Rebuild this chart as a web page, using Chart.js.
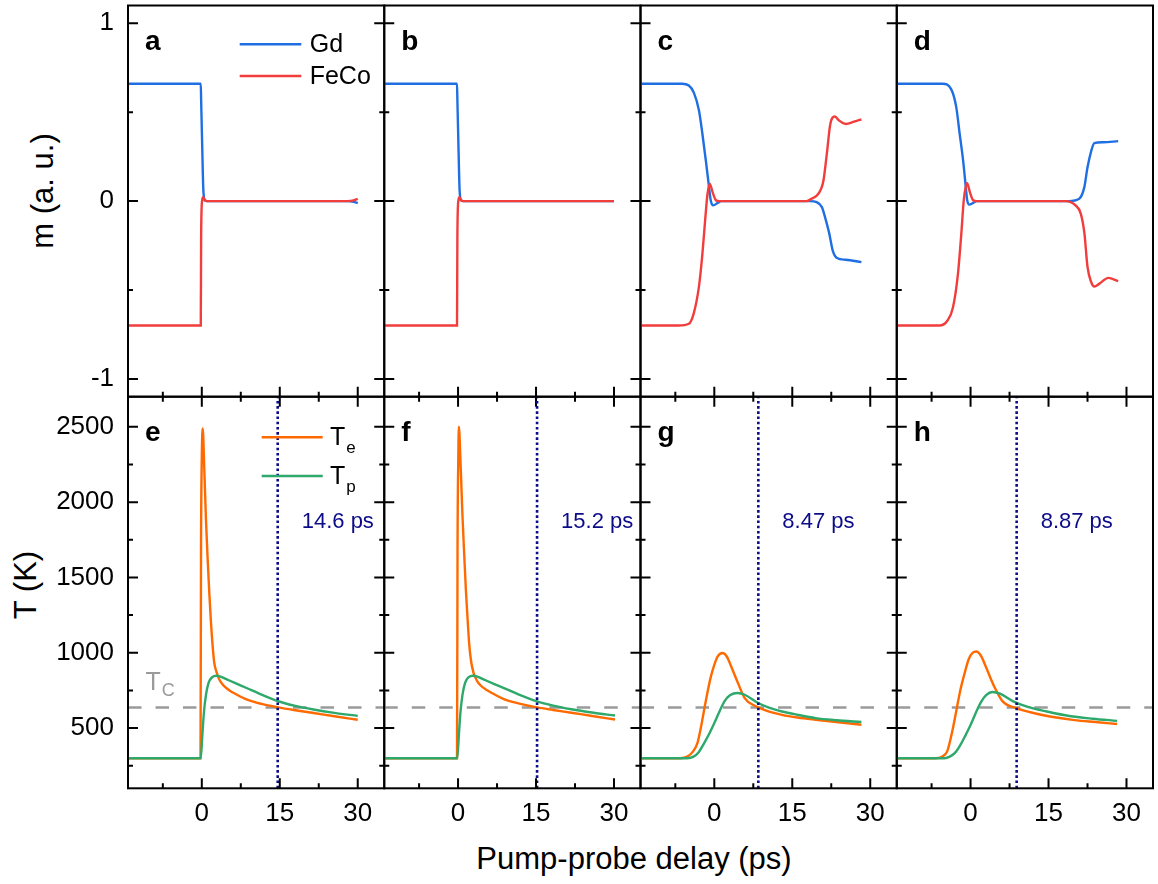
<!DOCTYPE html>
<html lang="en">
<head>
<meta charset="UTF-8" />
<title>Gd / FeCo magnetization and temperatures</title>
<script src="https://cdn.jsdelivr.net/npm/chart.js"></script>
<style>
body {
  margin: 0;
  background: #fff;
  font-family: 'Liberation Sans', Arial, sans-serif;
}
#wrap {
  position: relative;
  width: 1158px;
  height: 884px;
  overflow: hidden;
}
#wrap canvas { position: absolute; left: 0; top: 0; }
.title {
  position: absolute;
  font-size: 31px;
  line-height: 1;
  color: #000;
  white-space: nowrap;
}
#xtitle { left: 634px; top: 843px; transform: translateX(-50%); }
.ytitle { transform: translate(-50%, -50%) rotate(-90deg); }
#mtitle { left: 42px; top: 191px; }
#ttitle { left: 25px; top: 585px; }
</style>
</head>
<body>
<div id="wrap">
  <div class="title" id="xtitle">Pump-probe delay (ps)</div>
  <div class="title ytitle" id="mtitle">m (a. u.)</div>
  <div class="title ytitle" id="ttitle">T (K)</div>
</div>

<script>
// axes
const X_MIN = -14.2, X_MAX = 35.1;
const M_MIN = -1.1, M_MAX = 1.1;
const T_MIN = 100, T_MAX = 2700;
const X_TICKS = [-7.5, 0, 7.5, 15, 22.5, 30];
const X_LABELED = [0, 15, 30];
const M_TICKS = [-1, -0.5, 0, 0.5, 1];
const M_LABELED = [-1, 0, 1];
const T_TICKS = [250, 500, 750, 1000, 1250, 1500, 1750, 2000, 2250, 2500];
const T_LABELED = [500, 1000, 1500, 2000, 2500];

// Curie temperature and the time Te falls back below it
const T_CURIE = 637;
const SWITCH_TIMES = [14.6, 15.2, 8.47, 8.87];
const SWITCH_LABELS = ['14.6 ps', '15.2 ps', '8.47 ps', '8.87 ps'];
const SWITCH_LABEL_T = 1830;

// magnetization, panels a-d (time in ps, m in a.u.)
const TIME_A_GD = [-14.2, -0.2, -0.13, 0.1, 0.3, 0.6, 1.0, 28.0, 29.2, 30.0];
const GD_A      = [0.66, 0.66, 0.57, 0.28, 0.06, 0.005, 0, 0, -0.004, -0.011];
const TIME_A_FECO = [-14.2, -0.2, -0.13, 0.05, 0.25, 0.6, 1.0, 28.0, 29.2, 30.0];
const FECO_A      = [-0.70, -0.70, -0.20, 0.0, 0.022, 0.003, 0, 0, 0.004, 0.013];

const TIME_B_GD = [-14.2, -0.2, -0.13, 0.1, 0.3, 0.6, 1.0, 30.0];
const GD_B      = [0.66, 0.66, 0.57, 0.28, 0.06, 0.005, 0, 0];
const TIME_B_FECO = [-14.2, -0.2, -0.13, 0.05, 0.25, 0.6, 1.0, 30.0];
const FECO_B      = [-0.70, -0.70, -0.20, 0.0, 0.022, 0.003, 0, 0];

const TIME_C_GD = [-14.2, -6.2, -4.9, -3.94, -2.95, -2.3, -1.64, -1.1, -0.66, -0.2, 0.66, 1.3,
                   18.4, 19.7, 20.7, 21.3, 22.1, 22.8, 23.6, 25.3, 28.3];
const GD_C      = [0.66, 0.66, 0.65, 0.61, 0.51, 0.38, 0.23, 0.10, 0.0, -0.024, -0.01, 0,
                   0, -0.006, -0.034, -0.09, -0.18, -0.28, -0.32, -0.33, -0.343];
const TIME_C_FECO = [-14.2, -6.9, -4.9, -3.94, -2.95, -2.3, -1.77, -1.31, -0.85, -0.33, 0.33, 0.98,
                     17.7, 18.7, 20.0, 21.0, 21.7, 22.3, 23.2, 24.0, 25.3, 26.9, 28.3];
const FECO_C      = [-0.70, -0.70, -0.69, -0.63, -0.48, -0.30, -0.11, 0.04, 0.097, 0.05, 0.004, 0,
                     0, 0.013, 0.04, 0.116, 0.28, 0.43, 0.476, 0.453, 0.434, 0.447, 0.459];

const TIME_D_GD = [-14.2, -5.4, -3.74, -2.76, -2.1, -1.44, -0.92, -0.66, -0.26, 0.53, 1.2,
                   18.9, 20.9, 21.9, 22.5, 23.2, 23.8, 25.5, 28.4];
const GD_D      = [0.66, 0.66, 0.63, 0.53, 0.38, 0.23, 0.08, 0.007, -0.02, -0.01, 0,
                   0, 0.013, 0.08, 0.19, 0.28, 0.326, 0.331, 0.337];
const TIME_D_FECO = [-14.2, -6.0, -4.4, -3.4, -2.43, -1.77, -1.31, -0.92, -0.66, -0.13, 0.53, 1.2,
                     18.25, 20.2, 21.2, 21.9, 22.5, 23.2, 23.8, 24.8, 26.5, 28.4];
const FECO_D      = [-0.70, -0.70, -0.67, -0.60, -0.41, -0.18, 0.004, 0.08, 0.10, 0.05, 0.004, 0,
                     0, -0.024, -0.07, -0.18, -0.37, -0.455, -0.48, -0.464, -0.432, -0.45];

// temperatures, panels e-h (time in ps, T in K)
const TIME_E_TE = [-14.2, -0.25, -0.15, 0.0, 0.17, 0.48, 0.8, 1.13, 1.44, 1.77, 2.09, 2.4, 2.86,
                   3.2, 3.6, 4.2, 5.4, 6.5, 8.6, 11.5, 14.7, 18.0, 21.5, 25.5, 30.0];
const TE_E      = [300, 300, 1700, 2300, 2490, 2216, 1884, 1618, 1397, 1198, 1042, 932, 870,
                   835, 808, 782, 748, 726, 690, 660, 637, 618, 600, 578, 555];
const TIME_E_TP = [-14.2, -0.2, 0.1, 0.4, 0.8, 1.3, 2.0, 2.8, 3.6, 4.5, 5.4, 7.0, 8.6,
                   11.5, 14.7, 18.0, 21.5, 25.5, 30.0];
const TP_E      = [300, 300, 450, 600, 720, 800, 838, 847, 842, 828, 814, 790, 766,
                   722, 678, 647, 623, 601, 581];

const TIME_F_TE = [-14.2, -0.2, -0.1, 0.05, 0.15, 0.5, 0.85, 1.2, 1.5, 1.85, 2.15, 2.5, 2.95,
                   3.3, 3.7, 4.3, 5.5, 6.6, 8.7, 11.6, 15.2, 18.3, 21.8, 25.8, 30.2];
const TE_F      = [300, 300, 1700, 2300, 2500, 2240, 1910, 1640, 1420, 1215, 1055, 945, 870,
                   838, 810, 784, 752, 731, 694, 664, 637, 620, 602, 580, 557];
const TIME_F_TP = [-14.2, -0.15, 0.15, 0.45, 0.85, 1.35, 2.05, 2.9, 3.7, 4.6, 5.5, 7.1, 8.7,
                   11.6, 15.2, 18.3, 21.8, 25.8, 30.2];
const TP_F      = [300, 300, 450, 600, 720, 800, 838, 847, 842, 828, 814, 790, 767,
                   724, 677, 649, 625, 603, 583];

const TIME_G_TE = [-14.2, -6.5, -5.2, -4.2, -3.25, -2.6, -1.95, -1.3, -0.65, 0, 0.65, 1.6, 2.4,
                   3.25, 4.55, 5.84, 7.8, 10.0, 13.0, 16.0, 19.5, 23.5, 28.3];
const TE_G      = [300, 300, 310, 340, 400, 500, 622, 740, 843, 920, 976, 998, 975,
                   909, 799, 699, 648, 615, 588, 570, 555, 540, 522];
const TIME_G_TP = [-14.2, -5.2, -4.0, -3.0, -1.95, -1.0, 0, 1.0, 1.95, 3.0, 4.55, 5.84, 8.44,
                   10.5, 13.0, 16.0, 19.5, 23.5, 28.3];
const TP_G      = [300, 300, 310, 340, 400, 460, 533, 610, 677, 718, 733, 721, 666,
                   635, 610, 588, 566, 552, 540];

const TIME_H_TE = [-14.2, -6.8, -5.5, -4.5, -3.57, -2.6, -1.95, -1.1, -0.32, 0.4, 1.1, 2.0, 2.92,
                   4.55, 6.17, 8.77, 11.5, 15.26, 20.0, 24.0, 28.2];
const TE_H      = [300, 300, 310, 345, 470, 640, 754, 870, 960, 1000, 1008, 980, 909,
                   776, 677, 633, 605, 577, 553, 540, 527];
const TIME_H_TP = [-14.2, -5.0, -4.0, -3.0, -2.0, -1.0, 0, 1.0, 2.0, 3.0, 4.2, 5.65, 8.2,
                   11.0, 14.65, 19.0, 23.5, 28.2];
const TP_H      = [300, 300, 310, 335, 385, 450, 520, 600, 672, 718, 739, 728, 677,
                   640, 610, 580, 562, 548];

const FONT = "'Liberation Sans', Arial, sans-serif";
const COLORS = { gd: '#1f6fe3', feco: '#f23d3d', te: '#ff6a00', tp: '#2ea96b', tc: '#9a9a9a', sw: '#0c0c88' };

// page geometry of the 2 x 4 panel grid
const GRID_LEFT = 128, GRID_RIGHT = 1153;
const ROW_EDGES = [5.5, 396.7, 788.3];
const PANEL_W = (GRID_RIGHT - GRID_LEFT) / 4;
const Y_AXIS_W = 128, X_AXIS_H = 40;
const PAGE_W = 1158, PAGE_H = 884;

Chart.defaults.font.family = FONT;

const pts = (xs, ys) => xs.map((x, i) => ({ x, y: ys[i] }));

function curve(label, xs, ys, color, order) {
  return { label, data: pts(xs, ys), borderColor: color, borderWidth: 2.4, order,
           cubicInterpolationMode: 'monotone', pointRadius: 0, fill: false };
}

function magnetPanel(letter, col, gd, feco, legend) {
  return {
    letter, row: 0, col, legend,
    datasets: [
      curve('Gd', gd[0], gd[1], COLORS.gd, 2),
      curve('FeCo', feco[0], feco[1], COLORS.feco, 1)
    ]
  };
}

function tempPanel(letter, col, te, tp, legend) {
  const ts = SWITCH_TIMES[col];
  return {
    letter, row: 1, col, legend, tcLabel: legend, switchTime: ts, switchLabel: SWITCH_LABELS[col],
    datasets: [
      curve('Te', te[0], te[1], COLORS.te, 2),
      curve('Tp', tp[0], tp[1], COLORS.tp, 1),
      { label: 'Tc', data: pts([X_MIN, X_MAX], [T_CURIE, T_CURIE]), borderColor: COLORS.tc,
        borderWidth: 2.5, borderDash: [13.5, 14], tension: 0, pointRadius: 0, order: 3 },
      { label: 'switch', data: pts([ts, ts], [T_MIN, T_MAX]), borderColor: COLORS.sw,
        borderWidth: 2.6, borderDash: [2.6, 2.6], tension: 0, pointRadius: 0, order: 0 }
    ]
  };
}

const PANELS = [
  magnetPanel('a', 0, [TIME_A_GD, GD_A], [TIME_A_FECO, FECO_A], true),
  magnetPanel('b', 1, [TIME_B_GD, GD_B], [TIME_B_FECO, FECO_B], false),
  magnetPanel('c', 2, [TIME_C_GD, GD_C], [TIME_C_FECO, FECO_C], false),
  magnetPanel('d', 3, [TIME_D_GD, GD_D], [TIME_D_FECO, FECO_D], false),
  tempPanel('e', 0, [TIME_E_TE, TE_E], [TIME_E_TP, TP_E], true),
  tempPanel('f', 1, [TIME_F_TE, TE_F], [TIME_F_TP, TP_F], false),
  tempPanel('g', 2, [TIME_G_TE, TE_G], [TIME_G_TP, TP_G], false),
  tempPanel('h', 3, [TIME_H_TE, TE_H], [TIME_H_TP, TP_H], false)
];

// frame, inward ticks, panel letter, legend and annotations
function makeDecor(p) {
  const yTicks = p.row === 0 ? M_TICKS : T_TICKS;
  const yMajor = p.row === 0 ? M_LABELED : T_LABELED;
  return {
    id: 'decor' + p.letter,
    afterDatasetsDraw(chart) {
      const { ctx, chartArea: a } = chart;
      const xs = chart.scales.x, ys = chart.scales.y;
      ctx.save();
      ctx.strokeStyle = '#000';
      ctx.lineWidth = 2;
      ctx.beginPath();
      X_TICKS.forEach(v => {
        const len = X_LABELED.includes(v) ? 10 : 5;
        const px = xs.getPixelForValue(v);
        ctx.moveTo(px, a.bottom - len);
        ctx.lineTo(px, a.bottom + (p.row === 0 ? len : 0));
      });
      yTicks.forEach(v => {
        const len = yMajor.includes(v) ? 10 : 5;
        const py = ys.getPixelForValue(v);
        ctx.moveTo(a.left - (p.col > 0 ? len : 0), py);
        ctx.lineTo(a.left + len, py);
      });
      ctx.stroke();
      ctx.strokeRect(a.left, a.top, a.right - a.left, a.bottom - a.top);

      ctx.fillStyle = '#000';
      ctx.textBaseline = 'alphabetic';
      ctx.font = 'bold 28px ' + FONT;
      ctx.fillText(p.letter, a.left + 17, a.top + 44.5);

      if (p.legend) {
        const ds = chart.data.datasets;
        const L = p.row === 0
          ? { x0: 111.7, x1: 173.3, tx: 181.7, y0: 38.8, dy: 31.7 }
          : { x0: 133.7, x1: 194.7, tx: 202, y0: 40.6, dy: 38.7 };
        [0, 1].forEach(i => {
          const y = a.top + L.y0 + i * L.dy;
          ctx.strokeStyle = ds[i].borderColor;
          ctx.lineWidth = 2.5;
          ctx.beginPath();
          ctx.moveTo(a.left + L.x0, y);
          ctx.lineTo(a.left + L.x1, y);
          ctx.stroke();
          ctx.fillStyle = '#000';
          ctx.font = '25px ' + FONT;
          if (p.row === 0) {
            ctx.fillText(ds[i].label, a.left + L.tx, y + 7.6);
          } else {
            ctx.fillText('T', a.left + L.tx, y + 7.7);
            const w = ctx.measureText('T').width;
            ctx.font = '17px ' + FONT;
            ctx.fillText(ds[i].label.slice(1), a.left + L.tx + w + 1, y + 15.7);
          }
        });
      }

      if (p.tcLabel) {
        const y = ys.getPixelForValue(T_CURIE) - 17.7;
        ctx.fillStyle = COLORS.tc;
        ctx.font = '25px ' + FONT;
        ctx.fillText('T', a.left + 17.5, y);
        const w = ctx.measureText('T').width;
        ctx.font = '18px ' + FONT;
        ctx.fillText('C', a.left + 17.5 + w + 1, y + 6.7);
      }

      if (p.switchLabel) {
        ctx.fillStyle = COLORS.sw;
        ctx.font = '22px ' + FONT;
        ctx.fillText(p.switchLabel, xs.getPixelForValue(p.switchTime) + 24, ys.getPixelForValue(SWITCH_LABEL_T));
      }
      ctx.restore();
    }
  };
}

function clearPadding(s) {
  s.paddingTop = 0; s.paddingBottom = 0; s.paddingLeft = 0; s.paddingRight = 0;
}

const wrap = document.getElementById('wrap');

PANELS.forEach(p => {
  const canvas = document.createElement('canvas');
  canvas.width = PAGE_W;
  canvas.height = PAGE_H;
  wrap.appendChild(canvas);

  const left = GRID_LEFT + p.col * PANEL_W;
  const right = left + PANEL_W;
  const top = ROW_EDGES[p.row];
  const bottom = ROW_EDGES[p.row + 1];
  const yLabels = p.col === 0;
  const xLabels = p.row === 1;
  const yTicks = p.row === 0 ? M_TICKS : T_TICKS;
  const yMajor = p.row === 0 ? M_LABELED : T_LABELED;

  new Chart(canvas, {
    type: 'line',
    data: { datasets: p.datasets },
    options: {
      responsive: false,
      animation: false,
      events: [],
      layout: {
        padding: {
          left: left - (yLabels ? Y_AXIS_W : 0),
          right: PAGE_W - right,
          top: top,
          bottom: PAGE_H - bottom - (xLabels ? X_AXIS_H : 0)
        }
      },
      plugins: { legend: { display: false }, tooltip: { enabled: false } },
      scales: {
        x: {
          type: 'linear',
          min: X_MIN,
          max: X_MAX,
          afterBuildTicks: s => { s.ticks = X_TICKS.map(v => ({ value: v })); },
          afterFit: s => { s.height = xLabels ? X_AXIS_H : 0; clearPadding(s); },
          grid: { display: false, drawTicks: false },
          border: { display: false },
          ticks: {
            display: xLabels,
            autoSkip: false,
            maxRotation: 0,
            minRotation: 0,
            padding: 10,
            color: '#000',
            font: { size: 26, family: FONT },
            callback: v => X_LABELED.includes(v) ? String(v) : ''
          }
        },
        y: {
          type: 'linear',
          min: p.row === 0 ? M_MIN : T_MIN,
          max: p.row === 0 ? M_MAX : T_MAX,
          afterBuildTicks: s => { s.ticks = yTicks.map(v => ({ value: v })); },
          afterFit: s => { s.width = yLabels ? Y_AXIS_W : 0; clearPadding(s); },
          grid: { display: false, drawTicks: false },
          border: { display: false },
          ticks: {
            display: yLabels,
            autoSkip: false,
            padding: 14,
            color: '#000',
            font: { size: 26, family: FONT },
            callback: v => yMajor.includes(v) ? String(v) : ''
          }
        }
      }
    },
    plugins: [makeDecor(p)]
  });
});
</script>
</body>
</html>
